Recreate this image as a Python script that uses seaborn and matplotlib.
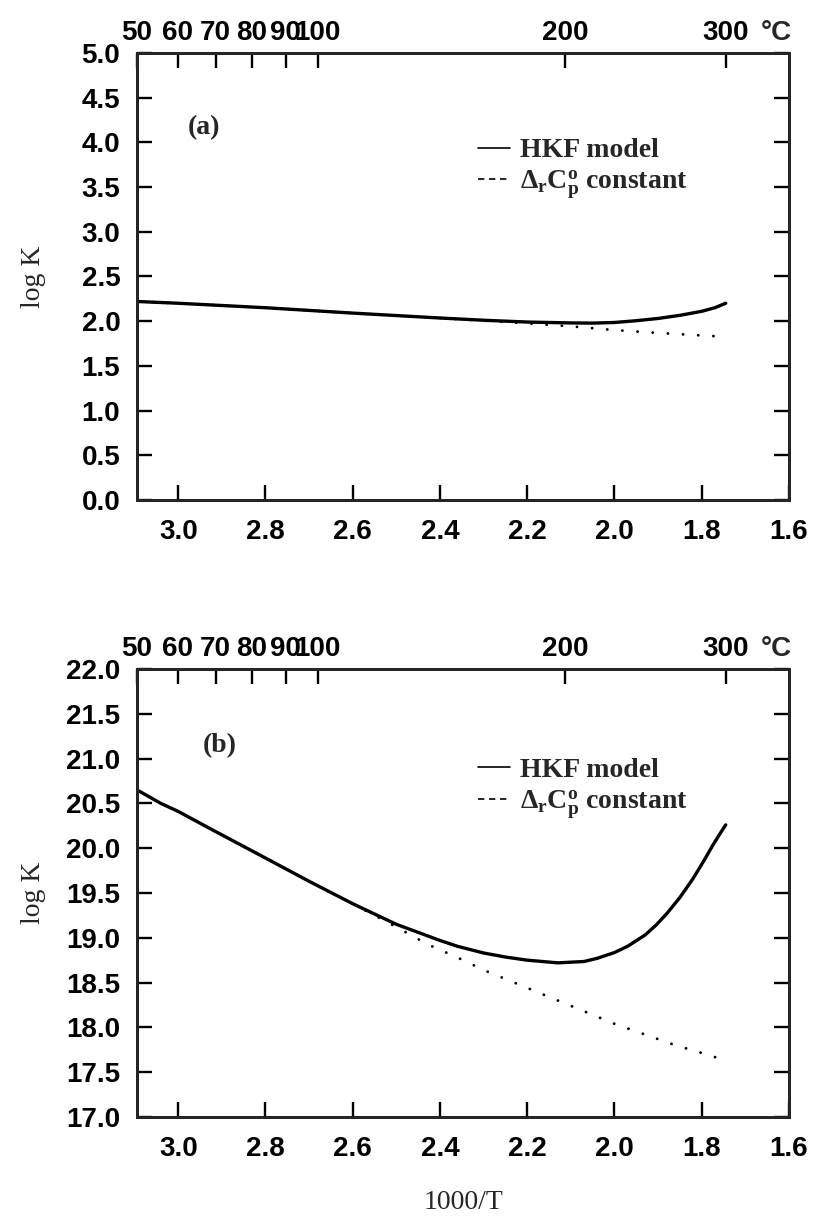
import numpy as np
import matplotlib
matplotlib.use("Agg")
import matplotlib.pyplot as plt
import seaborn as sns
from matplotlib.lines import Line2D

# ---------------- data ----------------
temps_top = [50, 60, 70, 80, 90, 100, 200, 300]          # degC, top axis
x_ticks = [3.0, 2.8, 2.6, 2.4, 2.2, 2.0, 1.8, 1.6]         # 1000/T, bottom axis

# panel (a)
a_hkf_x = [3.0945, 3.0, 2.8, 2.6, 2.4, 2.3, 2.2, 2.1, 2.05, 2.0, 1.95, 1.9, 1.85, 1.8, 1.77, 1.745]
a_hkf_y = [2.22, 2.20, 2.15, 2.09, 2.035, 2.01, 1.99, 1.98, 1.978, 1.985, 2.005, 2.03, 2.065, 2.11, 2.15, 2.20]
a_cp_x = [3.0945, 3.0, 2.8, 2.6, 2.4, 2.3, 2.2, 2.1, 2.0, 1.9, 1.8, 1.745]
a_cp_y = [2.22, 2.20, 2.15, 2.09, 2.035, 2.005, 1.975, 1.942, 1.90, 1.868, 1.840, 1.825]

# panel (b)
b_hkf_x = [3.0945, 3.04, 3.0, 2.92, 2.8, 2.7, 2.6, 2.5, 2.4, 2.36, 2.3, 2.25, 2.2, 2.13, 2.07,
           2.04, 2.0, 1.97, 1.93, 1.905, 1.88, 1.85, 1.82, 1.795, 1.775, 1.757, 1.745]
b_hkf_y = [20.65, 20.50, 20.41, 20.20, 19.89, 19.63, 19.38, 19.15, 18.97, 18.905, 18.83, 18.785,
           18.75, 18.72, 18.735, 18.77, 18.835, 18.905, 19.03, 19.14, 19.27, 19.45, 19.66, 19.86,
           20.03, 20.17, 20.26]
b_cp_x = [3.0945, 3.04, 3.0, 2.92, 2.8, 2.7, 2.6, 2.5, 2.43, 2.36, 2.3, 2.2, 2.13, 2.06, 2.0,
          1.93, 1.86, 1.79, 1.745]
b_cp_y = [20.65, 20.50, 20.41, 20.20, 19.89, 19.63, 19.38, 19.12, 18.93, 18.78, 18.64, 18.44,
          18.30, 18.16, 18.04, 17.92, 17.80, 17.70, 17.63]

legend_labels = ["HKF model", "Δ$_\\mathrm{r}$C$_\\mathrm{p}^\\mathrm{o}$ constant"]

# ---------------- style ----------------
sns.set_style("ticks")
plt.rcParams["font.family"] = ["Liberation Sans", "DejaVu Sans"]
plt.rcParams["font.weight"] = "bold"
plt.rcParams["mathtext.fontset"] = "custom"
plt.rcParams["mathtext.rm"] = "Liberation Serif:bold"
plt.rcParams["mathtext.it"] = "Liberation Serif:italic:bold"
plt.rcParams["mathtext.bf"] = "Liberation Serif:bold"
plt.rcParams["axes.linewidth"] = 2.0

SERIF = ["Liberation Serif", "DejaVu Serif"]
TICK_FS = 20
LW = 2.4

fig = plt.figure(figsize=(8.17, 12.17), dpi=100)
axA = fig.add_axes([0.1677, 0.5892, 0.798, 0.3673])
axB = fig.add_axes([0.1677, 0.0822, 0.798, 0.3681])

x_left = 1000.0 / (temps_top[0] + 273.15)

def style_panel(ax, ylim, yticks, panel, ptxt_xy, leg_anchor):
    sns.lineplot(x=panel["cx"], y=panel["cy"], ax=ax, color="black", lw=2.1,
                 linestyle=(0, (0.01, 5.2)), dash_capstyle="round", sort=False)
    sns.lineplot(x=panel["hx"], y=panel["hy"], ax=ax, color="black", lw=LW, sort=False)
    ax.set_xlim(x_left, 1.6)
    ax.set_ylim(*ylim)
    ax.set_xticks(x_ticks)
    ax.set_xticklabels([f"{v:.1f}" for v in x_ticks])
    ax.set_yticks(yticks)
    ax.set_yticklabels([f"{v:.1f}" for v in yticks])
    for s in ax.spines.values():
        s.set_visible(True)
        s.set_linewidth(2.0)
        s.set_color("black")
    ax.tick_params(axis="both", direction="in", length=11, width=1.7,
                   labelsize=TICK_FS, colors="black")
    ax.tick_params(axis="x", top=False, bottom=True, pad=14)
    ax.tick_params(axis="y", left=True, right=True, pad=12)
    ax.set_ylabel("log K", fontfamily=SERIF, fontweight="normal", fontsize=20)
    ax.yaxis.set_label_coords(-0.14, 0.5)
    ax.set_xlabel("")

    # top temperature axis
    ax2 = ax.twiny()
    ax2.set_xlim(ax.get_xlim())
    ax2.set_xticks([1000.0 / (t + 273.15) for t in temps_top])
    ax2.set_xticklabels([str(t) for t in temps_top])
    ax2.tick_params(axis="x", direction="in", length=11, width=1.7,
                    labelsize=TICK_FS, pad=5, colors="black")
    for s in ax2.spines.values():
        s.set_linewidth(2.0)
    ax2.annotate("°C", xy=(0.957, 1.0), xycoords="axes fraction",
                 xytext=(0, 5), textcoords="offset points",
                 ha="left", va="bottom", fontsize=TICK_FS, fontweight="bold")

    ax.text(ptxt_xy[0], ptxt_xy[1], panel["name"], transform=ax.transAxes,
            ha="center", va="center", fontfamily=SERIF, fontweight="bold", fontsize=20)

    handles = [Line2D([], [], color="black", lw=1.2),
               Line2D([], [], color="black", lw=1.2, dashes=(3.8, 2.8))]
    ax.legend(handles=handles, labels=legend_labels, loc="upper left",
              bbox_to_anchor=leg_anchor, frameon=False,
              prop={"family": SERIF, "weight": "bold", "size": 20},
              handlelength=1.15, handletextpad=0.35, borderpad=0,
              borderaxespad=0, labelspacing=0.2)
    return ax2

pa = dict(hx=a_hkf_x, hy=a_hkf_y, cx=a_cp_x, cy=a_cp_y, name="(a)")
pb = dict(hx=b_hkf_x, hy=b_hkf_y, cx=b_cp_x, cy=b_cp_y, name="(b)")

style_panel(axA, (0.0, 5.0), [0.0, 0.5, 1.0, 1.5, 2.0, 2.5, 3.0, 3.5, 4.0, 4.5, 5.0],
            pa, (0.103, 0.832), (0.523, 0.810))
style_panel(axB, (17.0, 22.0), [17.0, 17.5, 18.0, 18.5, 19.0, 19.5, 20.0, 20.5, 21.0, 21.5, 22.0],
            pb, (0.127, 0.830), (0.523, 0.802))

axB.set_xlabel("1000/T", fontfamily=SERIF, fontweight="normal", fontsize=20)
axB.xaxis.set_label_coords(0.5, -0.163)

fig.savefig("out.png", dpi=100)
